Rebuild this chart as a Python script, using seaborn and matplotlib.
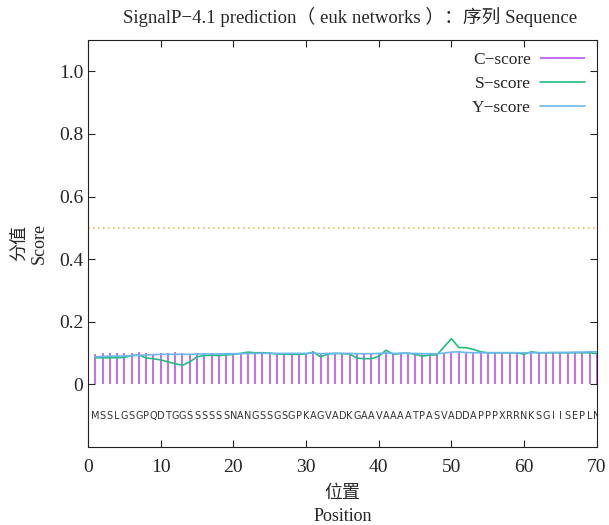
import matplotlib
matplotlib.use("Agg")
import matplotlib.pyplot as plt
import seaborn as sns
import pandas as pd

# SignalP-4.1 scores per residue
sequence = "MSSLGSGPQDTGGSSSSSSNANGSSGSGPKAGVADKGAAVAAAATPASVADDAPPPXRRNKSGIISEPLN"
positions = list(range(1, len(sequence) + 1))

c_score = [0.097, 0.100, 0.100, 0.099, 0.100, 0.100, 0.104, 0.100, 0.098, 0.100,
           0.099, 0.102, 0.100, 0.098, 0.100, 0.099, 0.099, 0.100, 0.100, 0.100,
           0.100, 0.101, 0.100, 0.100, 0.100, 0.099, 0.100, 0.100, 0.100, 0.101,
           0.106, 0.100, 0.099, 0.100, 0.100, 0.100, 0.099, 0.100, 0.098, 0.101,
           0.103, 0.100, 0.100, 0.100, 0.099, 0.100, 0.100, 0.101, 0.100, 0.100,
           0.104, 0.100, 0.100, 0.100, 0.100, 0.100, 0.100, 0.100, 0.100, 0.100,
           0.101, 0.100, 0.100, 0.100, 0.100, 0.100, 0.100, 0.100, 0.100, 0.100]

s_score = [0.085, 0.085, 0.085, 0.085, 0.086, 0.092, 0.094, 0.084, 0.082, 0.078,
           0.072, 0.066, 0.061, 0.072, 0.088, 0.092, 0.093, 0.092, 0.094, 0.096,
           0.099, 0.103, 0.101, 0.101, 0.100, 0.097, 0.096, 0.096, 0.096, 0.097,
           0.103, 0.088, 0.097, 0.099, 0.098, 0.097, 0.084, 0.082, 0.082, 0.090,
           0.109, 0.096, 0.099, 0.100, 0.096, 0.090, 0.094, 0.094, 0.120, 0.146,
           0.118, 0.117, 0.112, 0.104, 0.101, 0.101, 0.101, 0.101, 0.101, 0.096,
           0.104, 0.101, 0.101, 0.101, 0.101, 0.101, 0.101, 0.101, 0.101, 0.098]

y_score = [0.088, 0.089, 0.090, 0.090, 0.091, 0.092, 0.093, 0.094, 0.095, 0.096,
           0.096, 0.096, 0.096, 0.096, 0.097, 0.097, 0.097, 0.097, 0.098, 0.098,
           0.098, 0.099, 0.099, 0.099, 0.099, 0.099, 0.099, 0.099, 0.099, 0.099,
           0.100, 0.098, 0.099, 0.099, 0.099, 0.099, 0.098, 0.098, 0.098, 0.099,
           0.100, 0.099, 0.099, 0.099, 0.099, 0.098, 0.098, 0.098, 0.100, 0.103,
           0.104, 0.102, 0.101, 0.101, 0.101, 0.101, 0.101, 0.101, 0.101, 0.101,
           0.101, 0.101, 0.101, 0.102, 0.102, 0.102, 0.103, 0.103, 0.104, 0.104]

threshold = 0.5

df = pd.DataFrame({"pos": positions, "C": c_score, "S": s_score, "Y": y_score})

sns.set_style("ticks")
serif = ["Liberation Serif", "Noto Sans CJK SC"]
plt.rcParams["font.family"] = serif

fig = plt.figure(figsize=(6.09, 5.25), dpi=100)
ax = fig.add_axes([0.1445, 0.1486, 0.8355, 0.7752])

c_col = "#b445ee"
s_col = "#22bd7e"
y_col = "#6cb8f0"

ax.vlines(df["pos"], 0, df["C"], color=c_col, lw=1.1, label="C\u2212score")
sns.lineplot(data=df, x="pos", y="S", ax=ax, color=s_col, lw=1.2, label="S\u2212score")
sns.lineplot(data=df, x="pos", y="Y", ax=ax, color=y_col, lw=1.2, label="Y\u2212score")
ax.axhline(threshold, color="#f0c050", lw=1.2, ls=(0, (1, 2)))

for p, aa in zip(positions, sequence):
    ax.text(p, -0.1, aa, ha="center", va="center", fontsize=7,
            family=["Liberation Sans Narrow", "DejaVu Sans"], color="#333333",
            clip_on=True)

ax.set_xlim(0, 70)
ax.set_ylim(-0.2, 1.1)
ax.set_xticks(range(0, 71, 10))
ax.set_yticks([0, 0.2, 0.4, 0.6, 0.8, 1.0])
ax.set_yticklabels(["0", "0.2", "0.4", "0.6", "0.8", "1.0"])
ax.tick_params(direction="in", top=True, right=True, labelsize=14, length=5, width=0.8)
ax.tick_params(axis="x", pad=9)
for sp in ax.spines.values():
    sp.set_linewidth(0.8)
    sp.set_color("#222222")

ax.set_xlabel("位置\nPosition", fontsize=13, labelpad=6, linespacing=1.45)
ax.set_ylabel("分值\nScore", fontsize=13, labelpad=8)
title = ax.set_title("SignalP\u22124.1 prediction（ euk networks ）：序列 Sequence",
                     fontsize=13.5, pad=12)
title.set_x(0.515)

leg = ax.legend(loc="upper right", frameon=False, markerfirst=False,
                fontsize=12.5, handlelength=2.6, labelspacing=0.45,
                borderaxespad=0.3, handletextpad=0.5)

fig.savefig("out.png", dpi=100)
